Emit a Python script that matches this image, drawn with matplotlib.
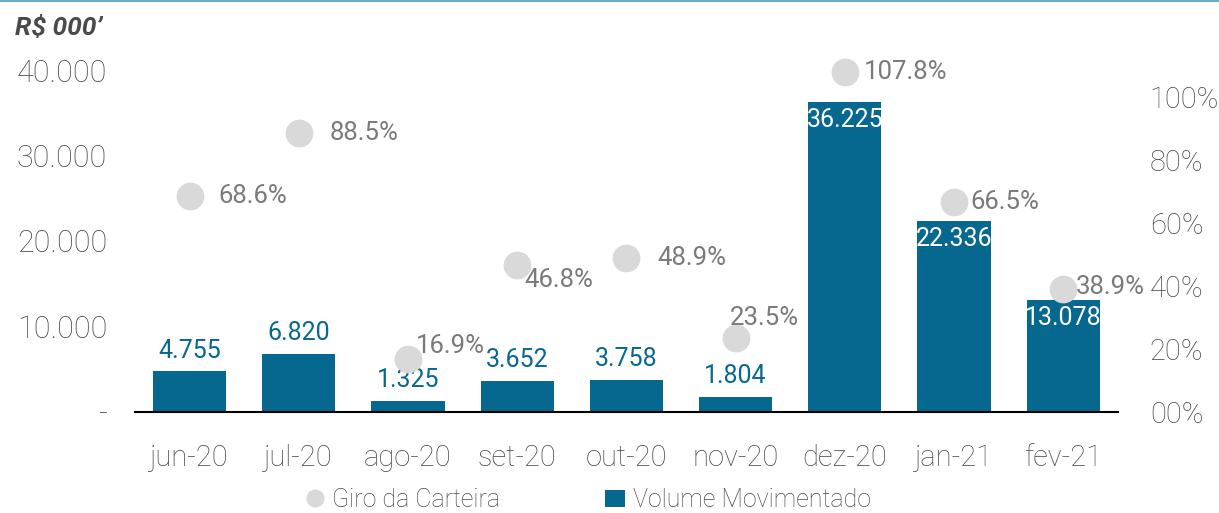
import numpy as np
import matplotlib
matplotlib.use("Agg")
import matplotlib.pyplot as plt
from matplotlib.lines import Line2D
from matplotlib.patches import Patch

months = ["jun-20", "jul-20", "ago-20", "set-20", "out-20", "nov-20", "dez-20", "jan-21", "fev-21"]
volume = [4755, 6820, 1325, 3652, 3758, 1804, 36225, 22336, 13078]
giro = [0.686, 0.885, 0.169, 0.468, 0.489, 0.235, 1.078, 0.665, 0.389]

bar_color = "#06688f"
dot_color = "#d9d9d9"
text_grey = "#4a4a4a"
pct_grey = "#7a7a7a"

plt.rcParams["font.family"] = ["Roboto", "DejaVu Sans"]
plt.rcParams["font.weight"] = "light"

fig = plt.figure(figsize=(12.19, 5.13), dpi=100)
ax = fig.add_axes([0.1107, 0.197, 0.8063, 0.7055])
ax2 = ax.twinx()

x = np.arange(len(months))
ax.bar(x, volume, width=0.67, color=bar_color, zorder=2)
ax.set_xlim(-0.5, 8.5)
ax.set_ylim(0, 42339)
ax.set_yticks([0, 10000, 20000, 30000, 40000])
ax.set_yticklabels(["-", "10.000", "20.000", "30.000", "40.000"])
ax.set_xticks(x)
ax.set_xticklabels(months)
ax.tick_params(axis="y", length=0, pad=20, labelsize=22, labelcolor=text_grey)
ax.tick_params(axis="x", length=0, pad=23, labelsize=21, labelcolor=text_grey)
for s in ["top", "right", "left"]:
    ax.spines[s].set_visible(False)
ax.spines["bottom"].set_color("black")
ax.spines["bottom"].set_linewidth(1.5)

# bar value labels: above the small ones, inside white for the tall ones
inside = {6, 7, 8}
for i, v in enumerate(volume):
    lab = f"{v:,}".replace(",", ".")
    if i in inside:
        ax.annotate(lab, (i, v), xytext=(0, -4), textcoords="offset points",
                    ha="center", va="top", fontsize=18, fontweight="normal",
                    color="white", zorder=5)
    else:
        ax.annotate(lab, (i, v), xytext=(0, 6), textcoords="offset points",
                    ha="center", va="bottom", fontsize=18, fontweight="normal",
                    color=bar_color, zorder=5)

ax2.scatter(x, giro, s=360, color=dot_color, zorder=3, clip_on=False)
ax2.set_ylim(0, 1.149)
ax2.set_yticks([0, 0.2, 0.4, 0.6, 0.8, 1.0])
ax2.set_yticklabels(["00%", "20%", "40%", "60%", "80%", "100%"])
ax2.tick_params(axis="y", length=0, pad=23, labelsize=21, labelcolor=text_grey)
for s in ["top", "right", "left", "bottom"]:
    ax2.spines[s].set_visible(False)

# offsets (points) for each percentage label
offs = [(21, 0), (22, 0), (6, 9), (5, -11), (22, 0), (-4, 14), (14, 0), (12, 0), (9, 2)]
for i, g in enumerate(giro):
    ax2.annotate(f"{g * 100:.1f}%", (i, g), xytext=offs[i], textcoords="offset points",
                 ha="left", va="center", fontsize=18.5, fontweight="normal",
                 color=pct_grey, zorder=4)

fig.text(0.012, 0.945, "R$ 000\u2019", fontsize=19, fontweight="bold", style="italic",
         color=text_grey, ha="left", va="center")

fig.add_artist(Line2D([0, 1], [0.999, 0.999], color="#6fa8c8", lw=1.5, transform=fig.transFigure))

handles = [Line2D([], [], marker="o", linestyle="none", markersize=12,
                  markerfacecolor=dot_color, markeredgecolor=dot_color),
           Patch(facecolor=bar_color)]
fig.legend(handles, ["Giro da Carteira", "Volume Movimentado"], loc="center",
           bbox_to_anchor=(0.482, 0.025), ncol=2, frameon=False,
           labelcolor=text_grey, handlelength=0.8, handletextpad=0.3, columnspacing=4.2,
           prop={"weight": "light", "size": 18})

fig.savefig("out.png", dpi=100)
